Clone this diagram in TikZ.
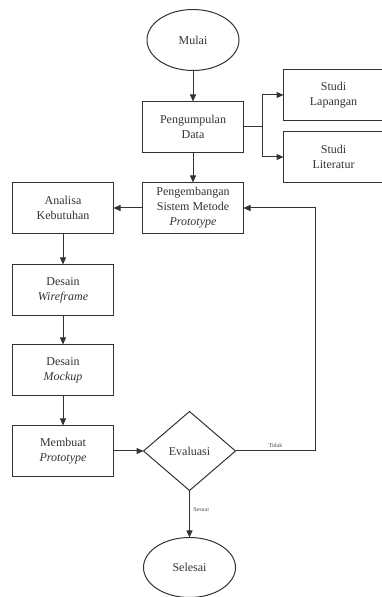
\documentclass[tikz,border=0pt]{standalone}
\usepackage{fontspec}
\setmainfont{Liberation Serif}
\usetikzlibrary{arrows.meta, shapes.geometric, positioning}

\tikzset{
  proc/.style={draw, rectangle, minimum width=101pt, minimum height=51pt,
    inner sep=1pt, outer sep=0pt, align=center},
  terminal/.style={draw, ellipse, minimum width=92pt, minimum height=61pt,
    inner sep=0pt, outer sep=0pt},
  decision/.style={draw, diamond, minimum width=92pt, minimum height=79pt,
    inner sep=0pt, outer sep=0pt},
  note/.style={font=\fontsize{6}{7}\selectfont, text=black!70}
}

\begin{document}
\begin{tikzpicture}[x=1pt, y=1pt, node distance=30pt, line width=1pt,
  draw=black!80, text=black!80, font=\fontsize{12}{15}\selectfont,
  >={Triangle[length=7pt, width=6pt]}]
  \useasboundingbox (0,0) rectangle (381,597);

  \node (mulai) [terminal] at (193,557) {Mulai};
  \node (kumpul) [proc, below=31pt of mulai] {Pengumpulan\\Data};
  \node (lapangan) [proc, minimum width=100pt, right=40pt of kumpul, yshift=32pt] {Studi\\Lapangan};
  \node (literatur) [proc, minimum width=100pt, below=11pt of lapangan] {Studi\\Literatur};
  \node (kembang) [proc, below=of kumpul] {Pengembangan\\Sistem Metode\\\textit{Prototype}};
  \node (analisa) [proc, left=29pt of kembang] {Analisa\\Kebutuhan};
  \node (wireframe) [proc, below=31pt of analisa] {Desain\\\textit{Wireframe}};
  \node (mockup) [proc, below=29pt of wireframe] {Desain\\\textit{Mockup}};
  \node (buat) [proc, below=of mockup] {Membuat\\\textit{Prototype}};
  \node (eval) [decision, right=of buat] {Evaluasi};
  \node (selesai) [terminal, minimum height=60pt, below=47pt of eval] {Selesai};

  \coordinate [right=19pt of kumpul] (cabang);
  \coordinate [right=80pt of eval] (balik);

  \path[draw,->] (mulai) edge (kumpul)
		 (kumpul) edge (kembang)
		 (kembang) edge (analisa)
		 (analisa) edge (wireframe)
		 (wireframe) edge (mockup)
		 (mockup) edge (buat)
		 (buat) edge (eval);

  \draw (kumpul) -- (cabang);
  \draw[->] (cabang) |- (lapangan);
  \draw[->] (cabang) |- (literatur);
  \draw[->] (eval) -- node[note, above] {Tidak} (balik) |- (kembang);
  \draw[->] (eval) -- node[note, right, pos=0.4] {Sesuai} (selesai);
\end{tikzpicture}
\end{document}
